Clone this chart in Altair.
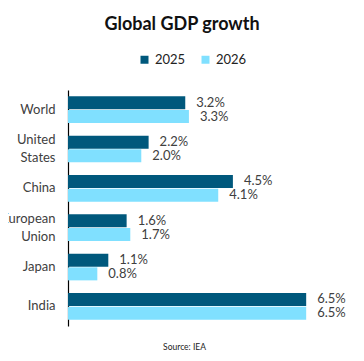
import altair as alt
import pandas as pd

countries = ["World", "United States", "China", "European Union", "Japan", "India"]
g2025 = [3.2, 2.2, 4.5, 1.6, 1.1, 6.5]
g2026 = [3.3, 2.0, 4.1, 1.7, 0.8, 6.5]
years = ["2025", "2026"]
colors = ["#00587C", "#80E0FF"]

rows = []
for c, a, b in zip(countries, g2025, g2026):
    rows.append({"country": c, "year": years[0], "value": a, "label": f"{a:.1f}%"})
    rows.append({"country": c, "year": years[1], "value": b, "label": f"{b:.1f}%"})
df = pd.DataFrame(rows)

FONT = "Lato"

y = alt.Y("country:N", sort=countries, title=None,
          scale=alt.Scale(paddingInner=0.32, paddingOuter=0.16),
          axis=alt.Axis(domainColor="#000000", domainWidth=1.2, ticks=False,
                        labelFontSize=13, labelColor="#404040", labelFont=FONT,
                        labelPadding=13, labelLineHeight=18,
                        labelOffset={"condition": {"test": "indexof(['United States','European Union'], datum.value) >= 0", "value": -9}, "value": 0},
                        labelExpr="datum.value == 'United States' ? ['United','States'] : datum.value == 'European Union' ? ['European','Union'] : datum.value"))
x = alt.X("value:Q", scale=alt.Scale(domain=[0, 7.15], nice=False),
          axis=alt.Axis(domain=False, labels=False, ticks=False, grid=False,
                        title="Source: IEA", titleFontSize=8.5, titleFontWeight="normal",
                        titleFont=FONT, titleColor="#222222", titleX=116, titleY=23,
                        titleBaseline="alphabetic"))
yoff = alt.YOffset("year:N", sort=years, scale=alt.Scale(paddingInner=0.05))

bars = alt.Chart(df).mark_bar().encode(
    x=x, y=y, yOffset=yoff,
    color=alt.Color("year:N", sort=years,
                    scale=alt.Scale(domain=years, range=colors),
                    legend=alt.Legend(title=None, orient="none", direction="horizontal",
                                      legendX=70, legendY=-37, symbolType="square",
                                      symbolSize=64, symbolStrokeWidth=0,
                                      labelFontSize=13, labelFont=FONT, labelColor="#222222",
                                      labelOffset=4, columnPadding=13, padding=0)),
)

labels = alt.Chart(df).mark_text(align="left", baseline="middle", dx=11,
                                 fontSize=13, font=FONT, color="#404040").encode(
    x="value:Q", y=alt.Y("country:N", sort=countries), yOffset=yoff, text="label:N")

chart = alt.layer(bars, labels).properties(
    width=262, height=236,
    title=alt.TitleParams("Global GDP growth", fontSize=18, fontWeight="bold", font=FONT,
                          color="#111111", anchor="middle", dx=-17, offset=19),
    autosize=alt.AutoSizeParams(type="none"),
    padding={"left": 60, "top": 82, "right": 20, "bottom": 25},
).configure_view(stroke=None)

chart.save("out.html", embed_options={"renderer": "svg", "actions": False})
